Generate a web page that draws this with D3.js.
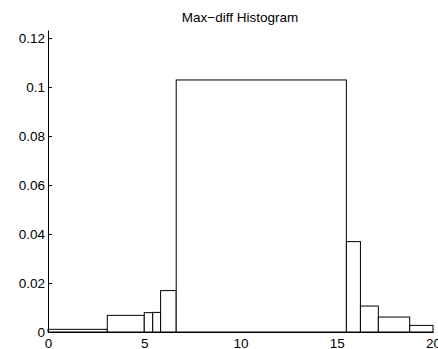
<!DOCTYPE html>
<html>
<head>
<meta charset="utf-8">
<script src="https://cdn.jsdelivr.net/npm/d3@7"></script>
<style>
  html, body { margin: 0; padding: 0; background: #fff; }
  svg { display: block; }
  text { font-family: "Liberation Sans", Arial, Helvetica, sans-serif; fill: #000; }
</style>
</head>
<body>
<div id="chart"></div>
<script>
// Histogram bin edges (variable-width bins) and normalised bin heights
const binEdges = [0, 3.08, 5.0, 5.44, 5.85, 6.66, 15.5, 16.23, 17.16, 18.79, 20];
const binHeights = [0.0011, 0.0068, 0.0079, 0.0080, 0.0169, 0.1029, 0.0369, 0.0106, 0.0061, 0.0027];
const xTicks = [0, 5, 10, 15, 20];
const yTicks = [0, 0.02, 0.04, 0.06, 0.08, 0.1, 0.12];
const yTickLabels = ["0", "0.02", "0.04", "0.06", "0.08", "0.1", "0.12"];
const titleText = "Max\u2212diff Histogram";

const width = 438, height = 349;

const svg = d3.select("#chart").append("svg")
  .attr("width", width)
  .attr("height", height);

const x = d3.scaleLinear().domain([0, 20]).range([48, 433]);
const y = d3.scaleLinear().domain([0, 0.1233]).range([332, 30]);

const bins = binHeights.map((h, i) => ({ x0: binEdges[i], x1: binEdges[i + 1], h }));

// bars
svg.append("g")
  .selectAll("rect")
  .data(bins)
  .join("rect")
  .attr("x", d => x(d.x0))
  .attr("y", d => y(d.h))
  .attr("width", d => x(d.x1) - x(d.x0))
  .attr("height", d => y(0) - y(d.h))
  .attr("fill", "#fff")
  .attr("stroke", "#000")
  .attr("stroke-width", 1);

// y axis: ticks point inward, labels on the left
const yAxis = d3.axisLeft(y)
  .tickValues(yTicks)
  .tickFormat((d, i) => yTickLabels[i])
  .tickSizeInner(-4)
  .tickSizeOuter(0)
  .tickPadding(3);

const gy = svg.append("g")
  .attr("transform", `translate(${x(0)},0)`)
  .call(yAxis);
gy.select(".domain").attr("stroke", "#000");
gy.selectAll("text").style("font-size", "13.5px").attr("font-family", null);

// x axis: no tick marks, labels only
const xAxis = d3.axisBottom(x)
  .tickValues(xTicks)
  .tickFormat(d3.format("d"))
  .tickSizeInner(0)
  .tickSizeOuter(0)
  .tickPadding(6.5);

const gx = svg.append("g")
  .attr("transform", `translate(0,${y(0)})`)
  .call(xAxis);
gx.select(".domain").attr("stroke", "#000");
gx.selectAll("text").style("font-size", "13.5px").attr("font-family", null);

// title
svg.append("text")
  .attr("x", 240)
  .attr("y", 21.5)
  .attr("text-anchor", "middle")
  .style("font-size", "13.5px")
  .text(titleText);
</script>
</body>
</html>
